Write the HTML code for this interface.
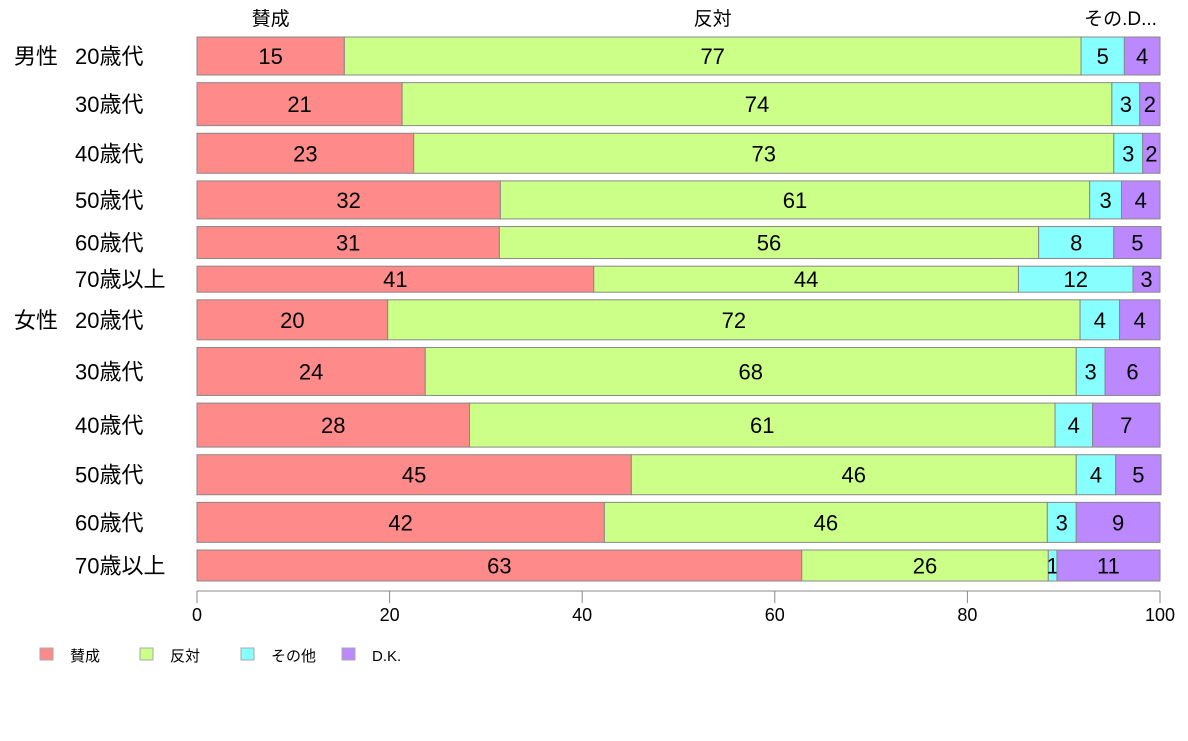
<!DOCTYPE html>
<html><head><meta charset="utf-8"><style>
body{margin:0;background:#fff;}
svg text{font-family:"Liberation Sans","Noto Sans CJK JP",sans-serif;fill:#000;}
</style></head><body>
<svg id="chart" width="1188" height="736" xmlns="http://www.w3.org/2000/svg"></svg>
<script>
const categories=["20歳代","30歳代","40歳代","50歳代","60歳代","70歳以上","20歳代","30歳代","40歳代","50歳代","60歳代","70歳以上"];
const groups=["男性","","","","","","女性","","","","",""];
const seriesNames=["賛成","反対","その他","D.K."];
const agree=[15.3,21.3,22.5,31.5,31.4,41.2,19.8,23.7,28.3,45.1,42.3,62.8];
const oppose=[76.5,73.7,72.7,61.2,56.0,44.1,71.9,67.6,60.8,46.2,46.0,25.6];
const other=[4.5,2.9,3.0,3.3,7.8,11.9,4.1,3.0,3.9,4.1,3.0,0.9];
const dk=[3.7,2.1,1.8,4.0,4.9,2.8,4.2,5.7,7.0,4.7,8.7,10.7];
const rowWeights=[38,43,40,38,32,26,40,48,44,40,40,31];
const ticks=[0,20,40,60,80,100];
const colors=["#ff8a8a","#ccff88","#88ffff","#bb88ff"];
const NS="http://www.w3.org/2000/svg";
const svg=document.getElementById('chart');
const X0=197,X1=1160,Y0=37,Y1=581;
const x=v=>X0+(X1-X0)*v/100;
function mk(t,a,txt){const e=document.createElementNS(NS,t);for(const k in a)e.setAttribute(k,a[k]);if(txt!==undefined)e.textContent=txt;svg.appendChild(e);return e;}
const series=[agree,oppose,other,dk];
const n=categories.length;
const totalW=rowWeights.reduce((a,b)=>a+b,0);
const gap=(Y1-Y0-totalW)/(n-1);
let y=Y0;
for(let i=0;i<n;i++){
  const h=rowWeights[i];
  let cum=0;
  for(let s=0;s<4;s++){
    const v=series[s][i];
    const r=mk('rect',{x:x(cum),y:y,width:x(cum+v)-x(cum),height:h,fill:colors[s],stroke:'#888','stroke-width':1});
    
    
    const t=mk('text',{x:(x(cum)+x(cum+v))/2,y:y+h/2+8,'text-anchor':'middle','font-size':22},Math.round(v));
    
    
    cum+=v;
  }
  const l=mk('text',{x:75,y:y+h/2+8,'font-size':22},categories[i]);
  
  
  if(groups[i]){const g=mk('text',{x:14,y:y+h/2+8,'font-size':22},groups[i]);
    
    }
  y+=h+gap;
}
// column headers
const hd=[[ (x(0)+x(agree[0]))/2,"賛成"],[(x(agree[0])+x(agree[0]+oppose[0]))/2,"反対"],[(x(agree[0]+oppose[0])+x(100))/2,"その.D..."]];
hd.forEach(h=>{const t=mk('text',{x:h[0],y:25,'text-anchor':'middle','font-size':19},h[1]);
  
  });
// axis
const ax=mk('line',{x1:X0,x2:X1,y1:591,y2:591,stroke:'#888'});


ticks.forEach(v=>{const tl=mk('line',{x1:x(v),x2:x(v),y1:591,y2:603,stroke:'#888'});
  
  
  const t=mk('text',{x:x(v),y:621,'text-anchor':'middle','font-size':18},v);
  
  });
// legend
const lx=[40,140,241,342];
seriesNames.forEach((s,i)=>{const r=mk('rect',{x:lx[i],y:648,width:13,height:12,fill:colors[i],stroke:'#aaa'});
  
  
  const t=mk('text',{x:lx[i]+30,y:661,'font-size':15},s);
  
  });
</script>
</body></html>
